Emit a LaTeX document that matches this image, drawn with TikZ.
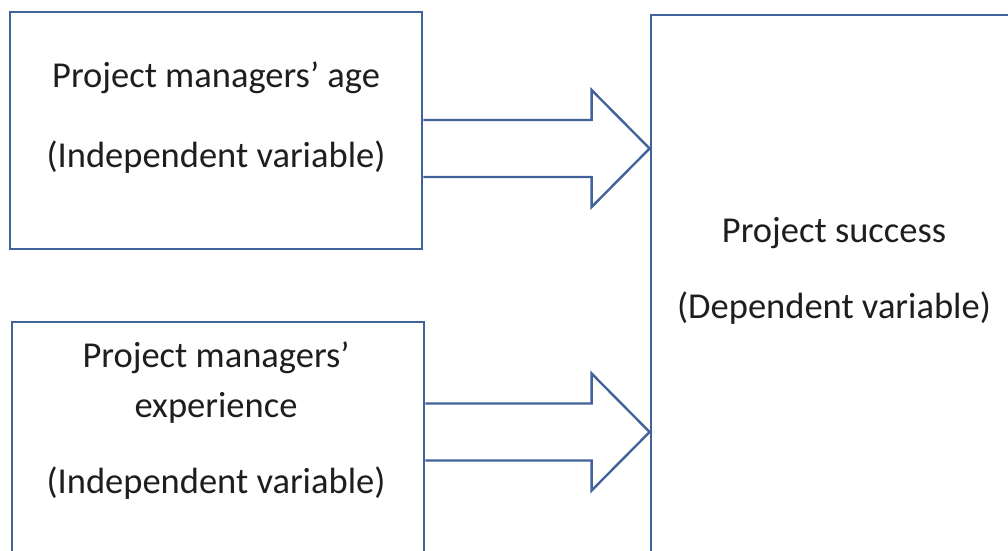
\documentclass[tikz,border=0pt]{standalone}
\usepackage{fontspec}
\setmainfont{Carlito}
\usetikzlibrary{calc}
\definecolor{boxblue}{RGB}{65,98,155}
\definecolor{textgray}{RGB}{30,30,30}
\tikzset{
  varbox/.style={draw=boxblue, line width=2.8pt, rectangle, inner sep=0pt},
  vartext/.style={text=textgray, font=\fontsize{36.5}{42}\selectfont, inner sep=0pt},
  blockarrow/.style={draw=boxblue, line width=2.4pt, line join=miter}
}
\begin{document}
\begin{tikzpicture}[x=1pt,y=-1pt]
\useasboundingbox (0,0) rectangle (1008,550);
\clip (0,0) rectangle (1008,550);
% variable boxes
\node[varbox, minimum width=412pt, minimum height=237pt] (age) at (216,130.5) {};
\node[varbox, minimum width=412pt, minimum height=260pt] (exp) at (218,452) {};
\node[varbox, minimum width=400pt, minimum height=560pt] (succ) at (851,295) {};
% labels
\node[vartext] (ageA) at (216,78) {Project managers’ age};
\node[vartext] (ageB) at (216,157) {(Independent variable)};
\node[vartext] (expA) at (216,358) {Project managers’};
\node[vartext] (expB) at (216,408) {experience};
\node[vartext] (expC) at (216,483) {(Independent variable)};
\node[vartext] (succA) at (834,233) {Project success};
\node[vartext] (succB) at (834,308) {(Dependent variable)};
% block arrows
\coordinate (startA) at ($(age.east)+(0,18)$);
\coordinate (tipA) at (succ.west |- startA);
\draw[blockarrow] ($(startA)+(0,-28.5)$) -- ($(tipA)+(-58,-28.5)$) -- ($(tipA)+(-58,-58.5)$)
  -- (tipA) -- ($(tipA)+(-58,58.5)$) -- ($(tipA)+(-58,28.5)$) -- ($(startA)+(0,28.5)$);
\coordinate (startB) at ($(exp.east)+(0,-20)$);
\coordinate (tipB) at (succ.west |- startB);
\draw[blockarrow] ($(startB)+(0,-28.5)$) -- ($(tipB)+(-58,-28.5)$) -- ($(tipB)+(-58,-58.5)$)
  -- (tipB) -- ($(tipB)+(-58,58.5)$) -- ($(tipB)+(-58,28.5)$) -- ($(startB)+(0,28.5)$);
\end{tikzpicture}
\end{document}
